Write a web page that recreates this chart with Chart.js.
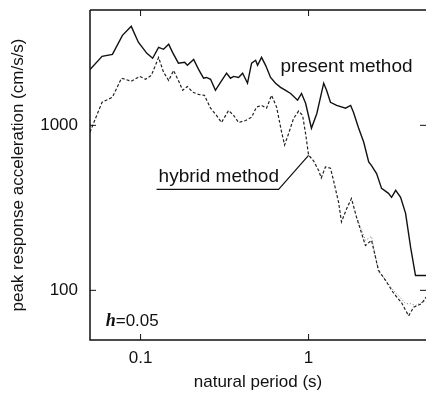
<!DOCTYPE html>
<html>
<head>
<meta charset="utf-8">
<script src="https://cdn.jsdelivr.net/npm/chart.js@4.4.1/dist/chart.umd.min.js"></script>
<style>
  html, body { margin: 0; padding: 0; background: #fff; }
  #wrap { width: 426px; height: 396px; position: relative; }
</style>
</head>
<body>
<div id="wrap"><canvas id="chart"></canvas></div>
<script>
// Peak response acceleration spectra, h=0.05

const presentT = [0.05, 0.059, 0.068, 0.078, 0.088, 0.097, 0.109, 0.118, 0.128, 0.137, 0.147, 0.155, 0.168, 0.183, 0.19, 0.207, 0.221, 0.237, 0.247, 0.261, 0.279, 0.299, 0.325, 0.343, 0.358, 0.383, 0.405, 0.433, 0.458, 0.484, 0.497, 0.525, 0.555, 0.594, 0.636, 0.681, 0.73, 0.782, 0.86, 0.908, 0.96, 1.04, 1.12, 1.23, 1.28, 1.35, 1.47, 1.66, 1.78, 1.85, 1.98, 2.13, 2.28, 2.37, 2.54, 2.72, 2.99, 3.12, 3.3, 3.53, 3.78, 4.05, 4.33, 5.0];
const presentA = [2180, 2620, 2690, 3510, 3980, 3190, 2730, 2550, 2970, 2890, 3100, 2770, 2380, 2410, 2310, 2510, 2190, 1930, 1950, 1900, 1630, 1820, 2070, 1930, 1980, 1950, 2070, 1800, 2380, 2480, 2310, 2580, 2310, 1950, 1800, 1700, 1630, 1560, 1420, 1560, 1360, 960, 1180, 1800, 1630, 1380, 1320, 1270, 1320, 1200, 970, 790, 600, 570, 510, 415, 387, 366, 404, 366, 293, 182, 123, 123];

const hybridT = [0.05, 0.0525, 0.059, 0.068, 0.077, 0.088, 0.099, 0.107, 0.116, 0.128, 0.137, 0.147, 0.157, 0.168, 0.178, 0.19, 0.204, 0.221, 0.24, 0.261, 0.283, 0.303, 0.334, 0.358, 0.383, 0.422, 0.458, 0.49, 0.525, 0.562, 0.602, 0.645, 0.691, 0.72, 0.76, 0.814, 0.872, 0.921, 0.96, 1.0, 1.07, 1.15, 1.19, 1.26, 1.35, 1.41, 1.51, 1.57, 1.68, 1.8, 1.93, 2.18, 2.37, 2.61, 2.87, 3.21, 3.58, 3.94, 4.22, 4.71, 5.0];
const hybridA = [910, 1030, 1380, 1480, 1930, 1850, 1980, 1900, 2010, 2580, 2100, 1870, 2150, 1870, 1630, 1720, 1590, 1540, 1520, 1270, 1150, 1040, 1230, 1150, 1040, 1070, 1120, 1290, 1320, 1270, 1520, 1290, 910, 760, 890, 1100, 1220, 1150, 890, 660, 610, 530, 480, 560, 550, 460, 340, 260, 310, 360, 277, 187, 201, 132, 115, 96, 84, 70, 79, 83, 91];

// faint dotted trace visible at long periods
const otherT = [1.93, 2.18, 2.37, 2.61, 2.79, 3.12, 3.53, 3.78, 4.05, 4.33, 5.0];
const otherA = [277, 201, 212, 129, 120, 103, 90, 83, 83, 81, 87];

const xLabels = [0.1, 1];
const yLabels = [100, 1000];

const toPoints = (xs, ys) => xs.map((x, i) => ({ x: x, y: ys[i] }));

// annotation anchors in data units
const notes = {
    present: { x: 0.681, y: 2094, text: 'present method' },
    hybrid: { x: 0.128, y: 452, text: 'hybrid method' },
    leader: [[0.1245, 409], [0.663, 409], [1.0, 658]],
    damping: { x: 0.062, y: 61 }
};

const FONT = '"Liberation Sans", Arial, sans-serif';

const framePlugin = {
    id: 'frame',
    afterDraw(chart) {
        const ctx = chart.ctx;
        const a = chart.chartArea;
        const xs = chart.scales.x, ys = chart.scales.y;
        ctx.save();
        ctx.strokeStyle = '#111';
        ctx.lineWidth = 1.5;
        ctx.beginPath();
        ctx.moveTo(a.left, a.top);
        ctx.lineTo(a.right, a.top);
        ctx.moveTo(a.left, a.top);
        ctx.lineTo(a.left, a.bottom);
        ctx.lineTo(a.right, a.bottom);
        ctx.stroke();

        // inward ticks
        ctx.lineWidth = 1;
        const isMajor = v => Math.abs(Math.log10(v) - Math.round(Math.log10(v))) < 1e-6;
        ctx.beginPath();
        xs.ticks.forEach(t => {
            const px = xs.getPixelForValue(t.value);
            const len = isMajor(t.value) ? 6 : 3;
            ctx.moveTo(px, a.bottom);
            ctx.lineTo(px, a.bottom - len);
            ctx.moveTo(px, a.top);
            ctx.lineTo(px, a.top + len);
        });
        ys.ticks.forEach(t => {
            const py = ys.getPixelForValue(t.value);
            const len = isMajor(t.value) ? 6 : 3;
            ctx.moveTo(a.left, py);
            ctx.lineTo(a.left + len, py);
            ctx.moveTo(a.right, py);
            ctx.lineTo(a.right - len, py);
        });
        ctx.stroke();

        // labels
        ctx.fillStyle = '#111';
        ctx.textBaseline = 'alphabetic';
        ctx.font = '19px ' + FONT;
        ctx.fillText(notes.present.text, xs.getPixelForValue(notes.present.x), ys.getPixelForValue(notes.present.y));
        ctx.fillText(notes.hybrid.text, xs.getPixelForValue(notes.hybrid.x), ys.getPixelForValue(notes.hybrid.y));

        ctx.lineWidth = 1.2;
        ctx.beginPath();
        notes.leader.forEach((p, i) => {
            const px = xs.getPixelForValue(p[0]), py = ys.getPixelForValue(p[1]);
            if (i === 0) ctx.moveTo(px, py); else ctx.lineTo(px, py);
        });
        ctx.stroke();

        let dx = xs.getPixelForValue(notes.damping.x);
        const dy = ys.getPixelForValue(notes.damping.y);
        ctx.font = 'italic bold 18px "Liberation Serif", "Times New Roman", serif';
        ctx.fillText('h', dx, dy);
        dx += ctx.measureText('h').width;
        ctx.font = '17px ' + FONT;
        ctx.fillText('=0.05', dx, dy);
        ctx.restore();
    }
};

new Chart(document.getElementById('chart'), {
    type: 'line',
    data: {
        datasets: [
            {
                label: 'present method',
                data: toPoints(presentT, presentA),
                borderColor: '#111',
                borderWidth: 1.4,
                pointRadius: 0,
                tension: 0
            },
            {
                label: 'hybrid method',
                data: toPoints(hybridT, hybridA),
                borderColor: '#222',
                borderWidth: 1.2,
                borderDash: [3, 2],
                pointRadius: 0,
                tension: 0
            },
            {
                label: 'other',
                data: toPoints(otherT, otherA),
                borderColor: '#777',
                borderWidth: 1,
                borderDash: [1, 2],
                pointRadius: 0,
                tension: 0
            }
        ]
    },
    options: {
        responsive: true,
        maintainAspectRatio: false,
        animation: false,
        layout: { padding: { top: 10, right: 0, left: 0, bottom: 0 } },
        plugins: { legend: { display: false }, tooltip: { enabled: false } },
        scales: {
            x: {
                type: 'logarithmic',
                min: 0.05,
                max: 5,
                grid: { display: false, drawTicks: false },
                border: { display: false },
                ticks: {
                    autoSkip: false,
                    maxRotation: 0,
                    padding: 8,
                    color: '#111',
                    font: { family: FONT, size: 17 },
                    callback: v => xLabels.includes(v) ? String(v) : null
                },
                title: {
                    display: true,
                    text: 'natural period (s)',
                    color: '#111',
                    font: { family: FONT, size: 17 },
                    padding: { top: 0, bottom: 3 }
                },
                afterFit: s => { s.height = 56; s.paddingLeft = 0; s.paddingRight = 0; }
            },
            y: {
                type: 'logarithmic',
                min: 50,
                max: 5000,
                grid: { display: false, drawTicks: false },
                border: { display: false },
                ticks: {
                    autoSkip: false,
                    padding: 12,
                    color: '#111',
                    font: { family: FONT, size: 17 },
                    callback: v => yLabels.includes(v) ? String(v) : null
                },
                title: {
                    display: true,
                    text: 'peak response acceleration (cm/s/s)',
                    color: '#111',
                    font: { family: FONT, size: 17 },
                    padding: { top: 8, bottom: 0 }
                },
                afterFit: s => { s.width = 90; s.paddingTop = 0; s.paddingBottom = 0; }
            }
        }
    },
    plugins: [framePlugin]
});
</script>
</body>
</html>
